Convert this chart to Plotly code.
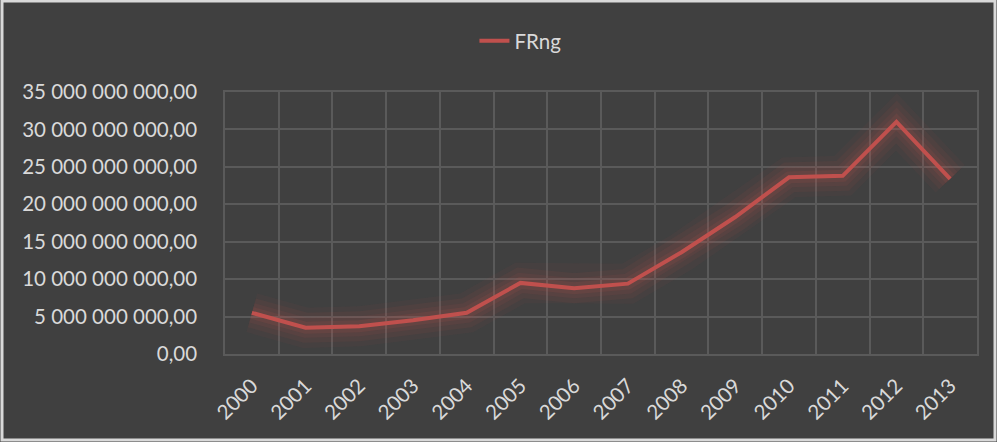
import plotly.graph_objects as go

# FRng yearly values
years = ["2000", "2001", "2002", "2003", "2004", "2005", "2006",
         "2007", "2008", "2009", "2010", "2011", "2012", "2013"]
frng = [5.5e9, 3.5e9, 3.7e9, 4.5e9, 5.5e9, 9.5e9, 8.8e9,
        9.4e9, 13.6e9, 18.3e9, 23.6e9, 23.8e9, 31.0e9, 23.4e9]
y_ticks = [0, 5e9, 10e9, 15e9, 20e9, 25e9, 30e9, 35e9]

W, H = 997, 442
ML, MR, MT, MB = 225, 20, 92, 88
LINE = "#C0504D"
TXT = "#D9D9D9"
GRID = "#5A5A5A"
FONT = "Lato"
FS = 20.5

fig = go.Figure()

# soft glow under the main line
for w, a in [(40, 0.05), (30, 0.07), (20, 0.09), (12, 0.12)]:
    fig.add_trace(go.Scatter(
        x=years, y=frng, mode="lines",
        line=dict(color=f"rgba(192,80,77,{a})", width=w),
        showlegend=False, hoverinfo="skip"))

fig.add_trace(go.Scatter(
    x=years, y=frng, mode="lines", name="FRng",
    line=dict(color=LINE, width=4)))

pw = W - ML - MR
ph = H - MT - MB
# light frame around the whole chart
fig.add_shape(type="rect", xref="paper", yref="paper",
              x0=(2 - ML) / pw, x1=(W - 2 - ML) / pw,
              y0=(ph + MT - (H - 2)) / ph, y1=(ph + MT - 1) / ph,
              line=dict(color="#D9D9D9", width=3), layer="above")

fig.update_layout(
    width=W, height=H,
    margin=dict(l=ML, r=MR, t=MT, b=MB),
    paper_bgcolor="#404040", plot_bgcolor="#404040",
    separators=", ",
    font=dict(family=FONT, size=FS, color=TXT),
    legend=dict(orientation="h", x=0.522, xref="container", xanchor="center",
                y=1 - 21 / H, yref="container", yanchor="top",
                font=dict(family=FONT, size=FS, color=TXT),
                bgcolor="rgba(0,0,0,0)"),
    xaxis=dict(type="category", tickson="boundaries", range=[-0.5, 13.5],
               showgrid=True, gridcolor=GRID, gridwidth=1.5,
               tickangle=-45, ticks="", ticklabelstandoff=10,
               zeroline=False, showline=True, mirror=True,
               linecolor=GRID, linewidth=1.5,
               tickfont=dict(family=FONT, size=FS, color=TXT)),
    yaxis=dict(range=[0, 35e9], tickvals=y_ticks, tickformat=",.2f",
               showgrid=True, gridcolor=GRID, gridwidth=1.5,
               zeroline=False, showline=True, mirror=True,
               linecolor=GRID, linewidth=1.5, ticks="",
               ticklabelstandoff=22,
               tickfont=dict(family=FONT, size=FS, color=TXT)),
)

fig.write_html("out.html")
